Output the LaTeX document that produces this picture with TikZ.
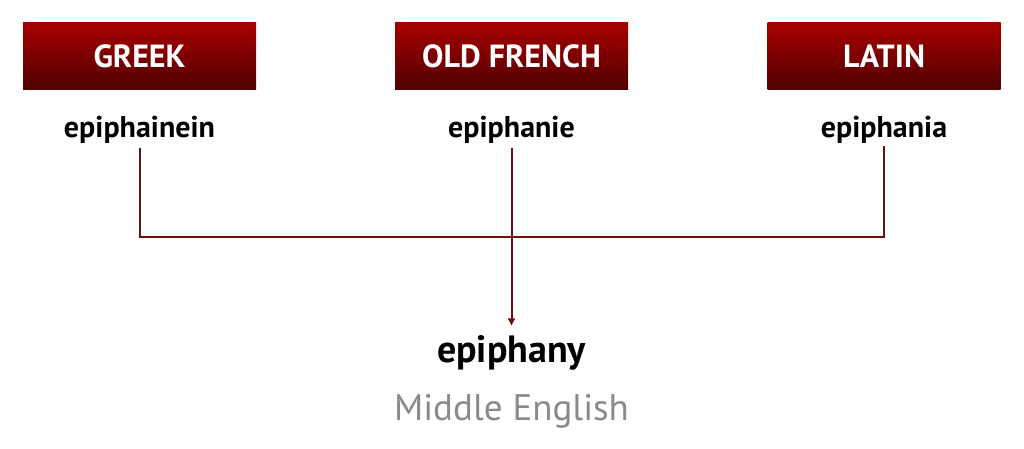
\documentclass[tikz,border=0pt]{standalone}
\usepackage{fontspec}
\setmainfont{PT Sans}
\usetikzlibrary{arrows.meta}
\definecolor{boxtop}{HTML}{A80000}
\definecolor{boxbot}{HTML}{4E0000}
\definecolor{linkred}{HTML}{6E1010}
\definecolor{langgray}{HTML}{8A8A8A}
\tikzset{
  langbox/.style={rectangle,top color=boxtop,bottom color=boxbot,draw=none,minimum width=233pt,minimum height=67pt,text=white,font=\fontsize{32}{36}\selectfont\bfseries},
  wordnode/.style={align=center,inner sep=2pt,font=\fontsize{30}{34}\selectfont\bfseries},
  link/.style={draw=linkred,line width=2pt}
}
\begin{document}
\begin{tikzpicture}[x=1pt,y=-1pt]
\useasboundingbox (0,0) rectangle (1024,449);
\node[langbox] (0) at (139.5,56.5) {GREEK};
\node[langbox] (1) at (511.5,56.5) {OLD FRENCH};
\node[langbox] (2) at (884,56.5) {LATIN};
\node[wordnode] (3) at (139.5,130) {epiphainein};
\node[wordnode] (4) at (511.5,130) {epiphanie};
\node[wordnode] (5) at (884,130) {epiphania};
\node[wordnode,font=\fontsize{38}{42}\selectfont\bfseries] (6) at (511.5,353) {epiphany};
\node[align=center,text=langgray,font=\fontsize{37}{42}\selectfont] (7) at (511.5,411) {Middle English};
\coordinate (8) at (139.5,237);
\coordinate (9) at (884,237);

\path [link,shorten <=2pt] (3) -- (8) -- (9) -- (5);
\path [link,shorten <=2pt,shorten >=8pt,-{Triangle[length=7pt,width=7pt]}] (4) -- (6);
\end{tikzpicture}
\end{document}
